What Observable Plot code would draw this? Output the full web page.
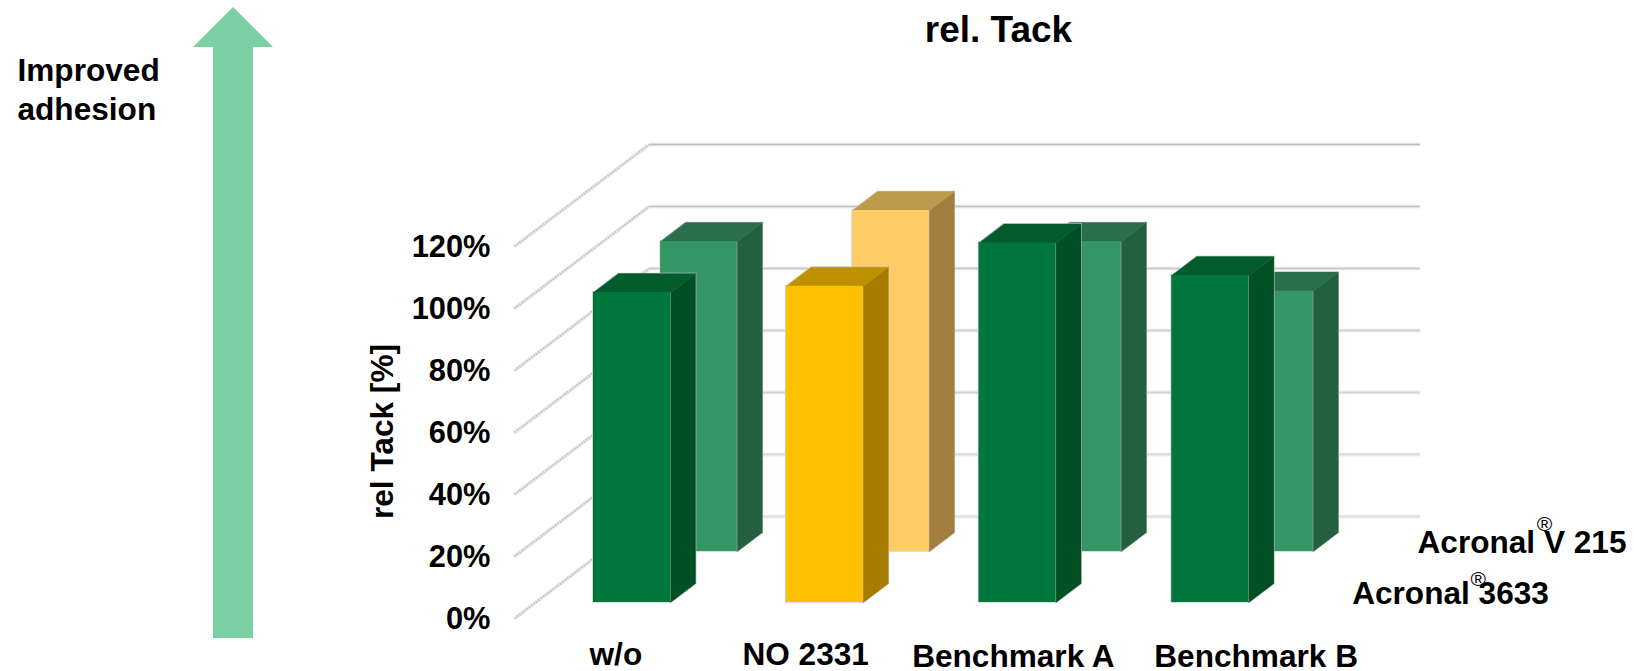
<!DOCTYPE html>
<html>
<head>
<meta charset="utf-8">
<style>
  html, body { margin: 0; padding: 0; background: #fff; }
  svg { display: block; }
</style>
<script src="https://cdn.jsdelivr.net/npm/d3@7"></script>
<script src="https://cdn.jsdelivr.net/npm/@observablehq/plot@0.6"></script>
</head>
<body>
<script>
// Relative tack of four formulations, measured in two base polymers
const categories = ["w/o", "NO 2331", "Benchmark A", "Benchmark B"];
const acronal3633 = [100, 102, 116, 105.5];
const acronalV215 = [100, 110, 100, 84];
const valueTicks = [0, 20, 40, 60, 80, 100, 120];
const seriesNames = ["Acronal", "Acronal"];
const seriesSuffixes = ["3633", "V 215"];

// Frame of the SVG and the pseudo-3D box the columns stand in
const W = 1634, H = 671;
const margin = {left: 514, right: 349, top: 246, bottom: 53};
const depthX = 0.6987;  // category units gained per unit of depth
const depthY = 32.9;    // percent units gained per unit of depth
const barDepth = 0.186;
const rowDepth = [0.25, 0.75];
const rowWidth = [0.4, 0.398];  // the rear row renders slightly narrower
const rowPitch = [1, 0.996];

// Oblique projection of (category, depth, value) into the x and y scales
const px = (u, d) => u + d * depthX;
const py = (v, d) => v + d * depthY;

const palette = {
  green:  [{front: "#00773a", side: "#005023", top: "#005c2b"},
           {front: "#349664", side: "#236040", top: "#2a6f4a"}],
  yellow: [{front: "#ffc000", side: "#a67c00", top: "#bf9000"},
           {front: "#ffcc66", side: "#a37f3f", top: "#bf994c"}]
};

// One row of columns: front rectangles plus side and top parallelograms,
// all sitting on a thin pale outline
function rowMarks(values, row) {
  const d0 = rowDepth[row] - barDepth / 2;
  const d1 = rowDepth[row] + barDepth / 2;
  const bars = values.map((v, i) => {
    const c = palette[i === 1 ? "yellow" : "green"][row];
    const mid = (i + 0.5) * rowPitch[row];
    return {i, v, c, x0: mid - rowWidth[row] / 2, x1: mid + rowWidth[row] / 2};
  });
  const faces = bars.flatMap(({i, v, c, x0, x1}) => [
    {id: `side${i}`, fill: c.side, pts: [[x1, 0, d0], [x1, 0, d1], [x1, v, d1], [x1, v, d0]]},
    {id: `top${i}`, fill: c.top, pts: [[x0, v, d0], [x1, v, d0], [x1, v, d1], [x0, v, d1]]}
  ]).flatMap(({id, fill, pts}) =>
    pts.map(([u, v, d]) => ({id, fill, x: px(u, d), y: py(v, d)})));
  const frontRect = {
    x1: b => px(b.x0, d0), x2: b => px(b.x1, d0),
    y1: () => py(0, d0), y2: b => py(b.v, d0)
  };
  return [
    Plot.rect(bars, {...frontRect, fill: "none", stroke: "#d4d4d4", strokeWidth: 1.6}),
    Plot.line(faces, {x: "x", y: "y", z: "id", fill: "none", stroke: "#c8c8c8", strokeWidth: 1.4, curve: "linear-closed"}),
    Plot.line(faces, {x: "x", y: "y", z: "id", fill: "fill", stroke: "fill", strokeWidth: 0.3, curve: "linear-closed"}),
    Plot.rect(bars, {...frontRect, fill: b => b.c.front})
  ];
}

// Text placed by absolute frame position, independent of the scales
const place = (text, x, y, options = {}) => Plot.text([text], {
  frameAnchor: "top-left",
  lineAnchor: "middle",
  dx: x - margin.left,
  dy: y - margin.top,
  fontWeight: 700,
  fontSize: 31.6,
  textAnchor: "start",
  ...options
});

// Block arrow pointing towards better adhesion
const improvedArrow = () => {
  const shape = [[233, 7], [273, 47], [253, 47], [253, 638], [213, 638], [213, 47], [193, 47]];
  const p = document.createElementNS("http://www.w3.org/2000/svg", "polygon");
  p.setAttribute("points", shape.join(" "));
  p.setAttribute("fill", "#7bd0a3");
  return p;
};

// Category labels sit below the floor's front edge, each with its own nudge
const categoryDx = [5, 2, 17, 67];
const categoryDy = [36, 36, 38, 38];
// Series labels and their registered-trademark signs, front row first
const seriesDx = [33, 31];
const markDx = [159, 158];
const markDy = [-14, -18];

const shade = v => d3.interpolateRgb("#bcbcbc", "#dedede")(1 - v / 120);

const chart = Plot.plot({
  width: W,
  height: H,
  marginLeft: margin.left,
  marginRight: margin.right,
  marginTop: margin.top,
  marginBottom: margin.bottom,
  style: {fontFamily: "'Liberation Sans', Arial, sans-serif", background: "#fff", overflow: "visible"},
  x: {domain: [0, categories.length], axis: null},
  y: {domain: [0, 120], axis: null},
  color: {type: "identity"},
  marks: [
    improvedArrow,
    place("Improved", 17, 70),
    place("adhesion", 17, 109),
    place("rel. Tack", 998, 30, {textAnchor: "middle", fontSize: 37}),
    place("rel Tack [%]", 382, 431, {textAnchor: "middle", rotate: -90, fontSize: 31.6}),

    // Back wall gridlines and the side wall's receding lines
    Plot.link(valueTicks, {
      x1: () => px(0, 1), x2: () => px(categories.length, 1),
      y1: v => py(v, 1), y2: v => py(v, 1),
      stroke: "#ededed", strokeWidth: 4
    }),
    Plot.link(valueTicks, {
      x1: () => px(0, 1), x2: () => px(categories.length, 1),
      y1: v => py(v, 1), y2: v => py(v, 1),
      stroke: shade, strokeWidth: 1.6
    }),
    Plot.link(valueTicks, {
      x1: () => px(0, 0), x2: () => px(0, 1),
      y1: v => py(v, 0), y2: v => py(v, 1),
      stroke: "#e8e8e8", strokeWidth: 3.5
    }),
    Plot.link(valueTicks, {
      x1: () => px(0, 0), x2: () => px(0, 1),
      y1: v => py(v, 0), y2: v => py(v, 1),
      stroke: "#c2c2c2", strokeWidth: 2, strokeDasharray: "1.5,1.5"
    }),

    ...rowMarks(acronalV215, 1),
    ...rowMarks(acronal3633, 0),

    Plot.axisY(valueTicks, {
      anchor: "left",
      tickSize: 0,
      tickPadding: 24,
      dy: 0.5,
      fontSize: 30.8,
      fontWeight: 700,
      label: null,
      tickFormat: v => `${v}%`
    }),

    // Category labels under each group of columns
    ...categories.map((name, i) => Plot.text([name], {
      x: () => px(i + 0.5, 0),
      y: () => py(0, 0),
      dx: categoryDx[i],
      dy: categoryDy[i],
      fontSize: 31.6,
      fontWeight: 700
    })),

    // Series labels along the floor's right edge
    ...rowDepth.map((d, r) => Plot.text([`${seriesNames[r]} ${seriesSuffixes[r]}`], {
      x: () => px(categories.length, d),
      y: () => py(0, d),
      dx: seriesDx[r],
      dy: 1,
      fontSize: 31.6,
      fontWeight: 700,
      textAnchor: "start"
    })),
    ...rowDepth.map((d, r) => Plot.text(["®"], {
      x: () => px(categories.length, d),
      y: () => py(0, d),
      dx: markDx[r],
      dy: markDy[r],
      fontSize: 21,
      fontWeight: 400,
      textAnchor: "middle"
    }))
  ]
});
document.body.appendChild(chart);
</script>
</body>
</html>
